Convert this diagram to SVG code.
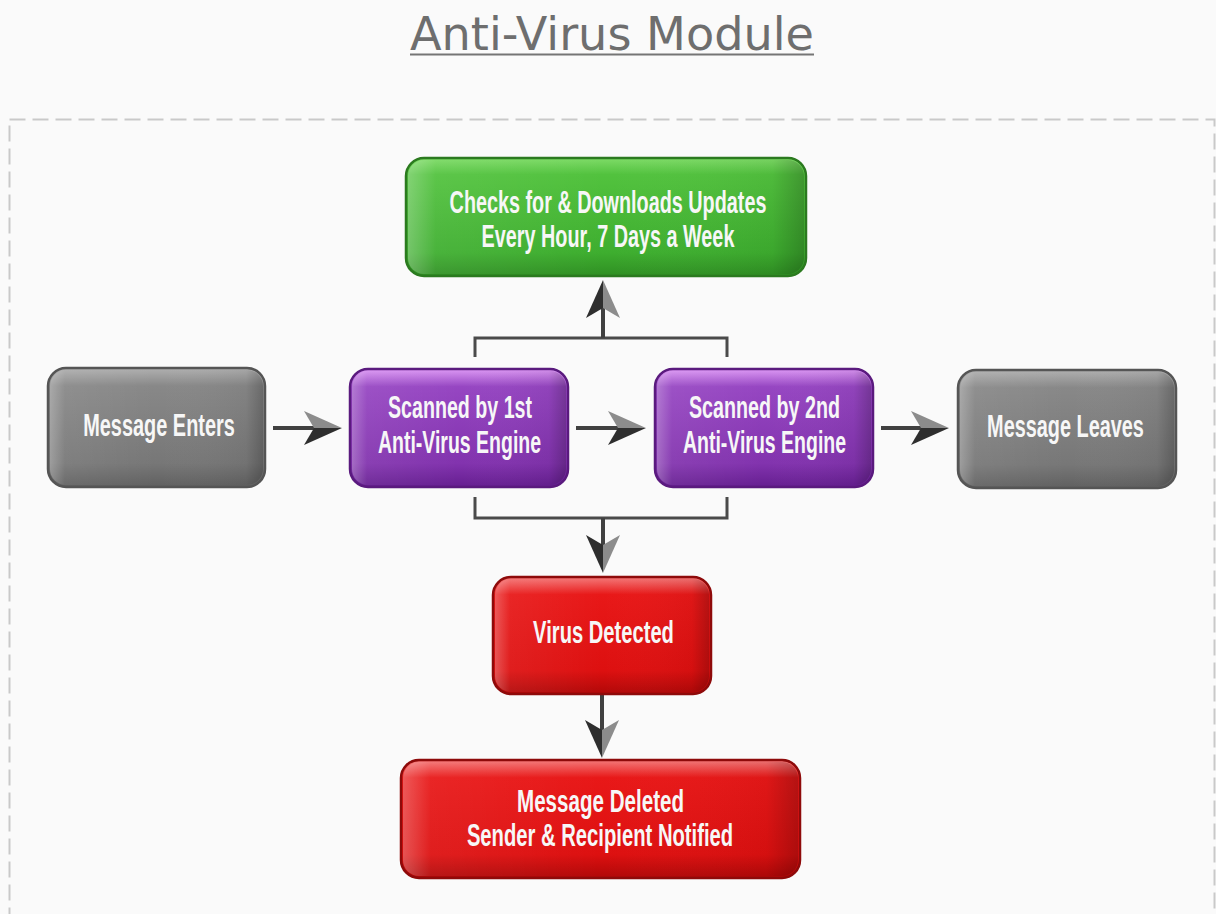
<svg xmlns="http://www.w3.org/2000/svg" width="1216" height="914" viewBox="0 0 1216 914">
  <defs>
    <style>
      .title { font-family: "DejaVu Sans", "Verdana", sans-serif; font-size: 46px; fill: #6e6e6e; }
      .lbl { font-family: "Liberation Sans", "Arial", sans-serif; font-size: 31px; font-weight: bold; fill: #f7f7f7; text-anchor: middle; }
      .wire { fill: none; stroke: #404040; stroke-width: 4; }
      .brace { fill: none; stroke: #4a4a4a; stroke-width: 3; }
      .ovl { pointer-events: none; }
    </style>
    <!-- body fills -->
    <linearGradient id="fGreen" x1="0" y1="0" x2="0" y2="1">
      <stop offset="0" stop-color="#7fdc68"/>
      <stop offset="0.14" stop-color="#52c23e"/>
      <stop offset="0.8" stop-color="#3eae2f"/>
      <stop offset="1" stop-color="#2f8f23"/>
    </linearGradient>
    <linearGradient id="fPurple" x1="0" y1="0" x2="0" y2="1">
      <stop offset="0" stop-color="#dc98f4"/>
      <stop offset="0.15" stop-color="#9646c2"/>
      <stop offset="0.8" stop-color="#8233ae"/>
      <stop offset="1" stop-color="#651e90"/>
    </linearGradient>
    <linearGradient id="fGray" x1="0" y1="0" x2="0" y2="1">
      <stop offset="0" stop-color="#b0b0b0"/>
      <stop offset="0.15" stop-color="#888888"/>
      <stop offset="0.8" stop-color="#777777"/>
      <stop offset="1" stop-color="#606060"/>
    </linearGradient>
    <linearGradient id="fRed" x1="0" y1="0" x2="0" y2="1">
      <stop offset="0" stop-color="#f47a7a"/>
      <stop offset="0.15" stop-color="#e81818"/>
      <stop offset="0.8" stop-color="#dd1010"/>
      <stop offset="1" stop-color="#b00808"/>
    </linearGradient>
    <!-- side shading shared by every box -->
    <linearGradient id="side" x1="0" y1="0" x2="1" y2="0">
      <stop offset="0" stop-color="#ffffff" stop-opacity="0.28"/>
      <stop offset="0.07" stop-color="#ffffff" stop-opacity="0.06"/>
      <stop offset="0.5" stop-color="#ffffff" stop-opacity="0"/>
      <stop offset="0.92" stop-color="#000000" stop-opacity="0.04"/>
      <stop offset="1" stop-color="#000000" stop-opacity="0.22"/>
    </linearGradient>
    <!-- two-tone stealth arrowhead, tip at origin, pointing +x -->
    <g id="head">
      <polygon points="0,0 -38,-17 -28,0" fill="#8c8c8c"/>
      <polygon points="0,0 -28,0 -38,17" fill="#2e2e2e"/>
    </g>
  </defs>

  <rect x="0" y="0" width="1216" height="914" fill="#fafafa"/>

  <!-- heading -->
  <text class="title" x="612" y="50" text-anchor="middle" textLength="404" lengthAdjust="spacingAndGlyphs">Anti-Virus Module</text>
  <line x1="410" y1="54.5" x2="814" y2="54.5" stroke="#757575" stroke-width="2"/>

  <!-- dashed frame -->
  <rect x="9.5" y="119.5" width="1205" height="830" fill="none" stroke="#c9c9c9" stroke-width="2" stroke-dasharray="16 7"/>

  <!-- connectors -->
  <g id="connectors">
    <line class="wire" x1="273" y1="428" x2="318" y2="428"/>
    <use href="#head" transform="translate(342,428)"/>
    <line class="wire" x1="576" y1="428" x2="622" y2="428"/>
    <use href="#head" transform="translate(646,428)"/>
    <line class="wire" x1="881" y1="428" x2="925" y2="428"/>
    <use href="#head" transform="translate(949,428)"/>

    <path class="brace" d="M475 357 V338 H727 V357"/>
    <line class="wire" x1="603" y1="338" x2="603" y2="304"/>
    <use href="#head" transform="translate(603,280) rotate(-90) scale(1,-1)"/>

    <path class="brace" d="M475 497 V518 H727 V497"/>
    <line class="wire" x1="603" y1="518" x2="603" y2="550"/>
    <use href="#head" transform="translate(603,573) rotate(90)"/>

    <line class="wire" x1="602" y1="694" x2="602" y2="735"/>
    <use href="#head" transform="translate(602,758) rotate(90)"/>
  </g>

  <!-- nodes (labels are drawn narrow: scaled 0.64 horizontally) -->
  <g id="updates">
    <rect x="406" y="158" width="400" height="118" rx="18" fill="url(#fGreen)" stroke="#2b7a1f" stroke-width="2.5"/>
    <rect class="ovl" x="408" y="160" width="396" height="114" rx="16" fill="url(#side)"/>
    <text class="lbl" transform="translate(608,213) scale(0.64,1)" textLength="495" lengthAdjust="spacingAndGlyphs">Checks for &amp; Downloads Updates</text>
    <text class="lbl" transform="translate(608,247) scale(0.64,1)" textLength="395" lengthAdjust="spacingAndGlyphs">Every Hour, 7 Days a Week</text>
  </g>

  <g id="enters">
    <rect x="48" y="368" width="217" height="119" rx="18" fill="url(#fGray)" stroke="#555555" stroke-width="2.5"/>
    <rect class="ovl" x="50" y="370" width="213" height="115" rx="16" fill="url(#side)"/>
    <text class="lbl" transform="translate(159,436) scale(0.64,1)" textLength="237" lengthAdjust="spacingAndGlyphs">Message Enters</text>
  </g>

  <g id="engine1">
    <rect x="350" y="369" width="218" height="118" rx="18" fill="url(#fPurple)" stroke="#5a1a7e" stroke-width="2.5"/>
    <rect class="ovl" x="352" y="371" width="214" height="114" rx="16" fill="url(#side)"/>
    <text class="lbl" transform="translate(460,418) scale(0.64,1)" textLength="225" lengthAdjust="spacingAndGlyphs">Scanned by 1st</text>
    <text class="lbl" transform="translate(459.5,453) scale(0.64,1)" textLength="255" lengthAdjust="spacingAndGlyphs">Anti-Virus Engine</text>
  </g>

  <g id="engine2">
    <rect x="655" y="369" width="218" height="118" rx="18" fill="url(#fPurple)" stroke="#5a1a7e" stroke-width="2.5"/>
    <rect class="ovl" x="657" y="371" width="214" height="114" rx="16" fill="url(#side)"/>
    <text class="lbl" transform="translate(764.5,418) scale(0.64,1)" textLength="236" lengthAdjust="spacingAndGlyphs">Scanned by 2nd</text>
    <text class="lbl" transform="translate(764.5,453) scale(0.64,1)" textLength="255" lengthAdjust="spacingAndGlyphs">Anti-Virus Engine</text>
  </g>

  <g id="leaves">
    <rect x="958" y="370" width="218" height="118" rx="18" fill="url(#fGray)" stroke="#555555" stroke-width="2.5"/>
    <rect class="ovl" x="960" y="372" width="214" height="114" rx="16" fill="url(#side)"/>
    <text class="lbl" transform="translate(1065.5,437) scale(0.64,1)" textLength="245" lengthAdjust="spacingAndGlyphs">Message Leaves</text>
  </g>

  <g id="detected">
    <rect x="493" y="577" width="218" height="117" rx="18" fill="url(#fRed)" stroke="#8e0a0a" stroke-width="2.5"/>
    <rect class="ovl" x="495" y="579" width="214" height="113" rx="16" fill="url(#side)"/>
    <text class="lbl" transform="translate(603.5,643) scale(0.64,1)" textLength="220" lengthAdjust="spacingAndGlyphs">Virus Detected</text>
  </g>

  <g id="deleted">
    <rect x="401" y="760" width="399" height="118" rx="18" fill="url(#fRed)" stroke="#8e0a0a" stroke-width="2.5"/>
    <rect class="ovl" x="403" y="762" width="395" height="114" rx="16" fill="url(#side)"/>
    <text class="lbl" transform="translate(600.5,812) scale(0.64,1)" textLength="261" lengthAdjust="spacingAndGlyphs">Message Deleted</text>
    <text class="lbl" transform="translate(600,846) scale(0.64,1)" textLength="416" lengthAdjust="spacingAndGlyphs">Sender &amp; Recipient Notified</text>
  </g>
</svg>
